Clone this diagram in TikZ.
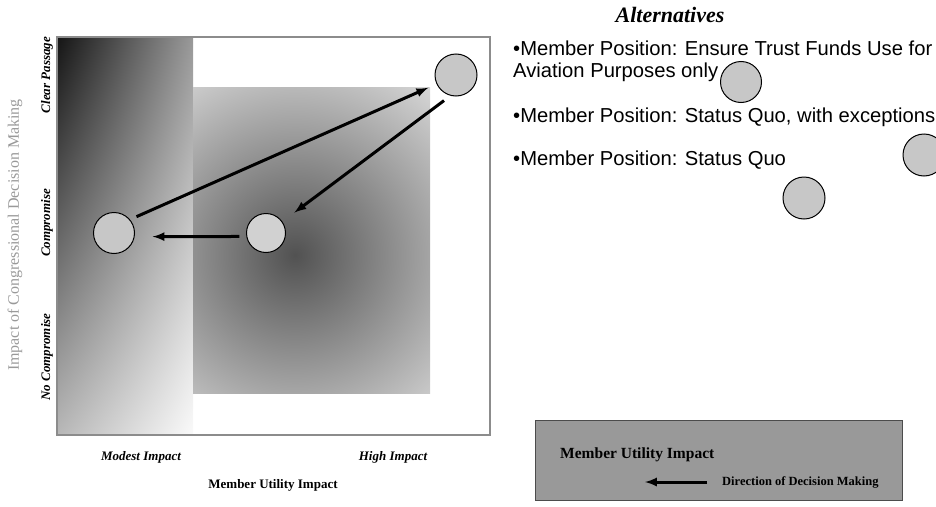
\documentclass[tikz,border=0pt]{standalone}
\usepackage{fontspec}
\setmainfont{Liberation Serif}
\newfontfamily\arialfont{Liberation Sans}
\usetikzlibrary{calc,shadings}
\tikzset{
  >={latex}
}

\begin{document}
\begin{tikzpicture}[x=1pt,y=-1pt,
    spot/.style={circle,draw,fill=black!22,line width=1pt,inner sep=0pt},
    pull/.style={->,line width=3pt},
    axlbl/.style={font=\fontsize{13}{15}\selectfont\bfseries\itshape,inner sep=0pt},
    alt/.style={font=\arialfont\fontsize{20.2}{24}\selectfont,anchor=base west,inner sep=0pt}]
    \useasboundingbox (0,0) rectangle (936,506);
    \shade[upper left=black!92,upper right=black!40,lower left=black!28,lower right=black!2]
      (57,37) rectangle (193,435);
    \begin{scope}
      \clip (193,87) rectangle (430,393);
      \fill[black!10] (193,87) rectangle (430,393);
      \shade[inner color=black!68,outer color=black!10] (295,255) circle (240pt);
    \end{scope}
    \draw[black!45,line width=1.2pt] (57,37) rectangle (490,435);
    \node[spot,minimum size=41pt] (p_1) at (114,233) {};
    \node[spot,minimum size=39pt,fill=black!18] (p_2) at (266,233) {};
    \node[spot,minimum size=42pt] (p_3) at (456,75) {};
    \draw[pull,shorten <=7pt,shorten >=9pt] (p_1.40) -- (p_3.205);
    \draw[pull,shorten <=8pt,shorten >=15pt] (p_3.255) -- (p_2.35);
    \draw[pull,shorten <=7pt,shorten >=18pt] (p_2.190) -- (p_1.350);
    \node[axlbl,rotate=90] (y_1) at (47,75) {Clear Passage};
    \node[axlbl,rotate=90] (y_2) at (47,223) {Compromise};
    \node[axlbl,rotate=90] (y_3) at (47,357) {No Compromise};
    \node[rotate=90,black!40,font=\fontsize{16}{18}\selectfont] (y_t) at (15,235)
      {Impact of Congressional Decision Making};
    \node[axlbl] (x_1) at (141,457) {Modest Impact};
    \node[axlbl] (x_2) at (393,457) {High Impact};
    \node[font=\fontsize{13}{15}\selectfont\bfseries] (x_t) at (273,485) {Member Utility Impact};
    \node[font=\fontsize{22}{24}\selectfont\bfseries\itshape,anchor=base] (alts) at (670,22) {Alternatives};
    \node[alt] (m_1) at (513,55) {\textbullet Member Position: Ensure Trust Funds Use for};
    \node[alt] (m_2) at (513,77) {Aviation Purposes only};
    \node[alt] (m_3) at (513,122) {\textbullet Member Position: Status Quo, with exceptions};
    \node[alt] (m_4) at (513,165) {\textbullet Member Position: Status Quo};
    \node[spot,minimum size=41pt] (a_1) at (741,82) {};
    \node[spot,minimum size=42pt] (a_2) at (924,155) {};
    \node[spot,minimum size=42pt] (a_3) at (804,198) {};
    \node[draw=black!70,fill=black!40,line width=1pt,minimum width=367pt,minimum height=80pt] (key)
      at (718.5,460) {};
    \node[font=\fontsize{15.5}{17}\selectfont\bfseries,anchor=base west,inner sep=0pt] (k_1)
      at (560,458) {Member Utility Impact};
    \node[font=\fontsize{12.5}{14}\selectfont\bfseries,anchor=west,inner sep=0pt] (k_2)
      at (722,482) {Direction of Decision Making};
    \coordinate (d_0) at (707,482);
    \coordinate (d_1) at (645,482);
    \draw[pull] (d_0) -- (d_1);
\end{tikzpicture}
\end{document}
